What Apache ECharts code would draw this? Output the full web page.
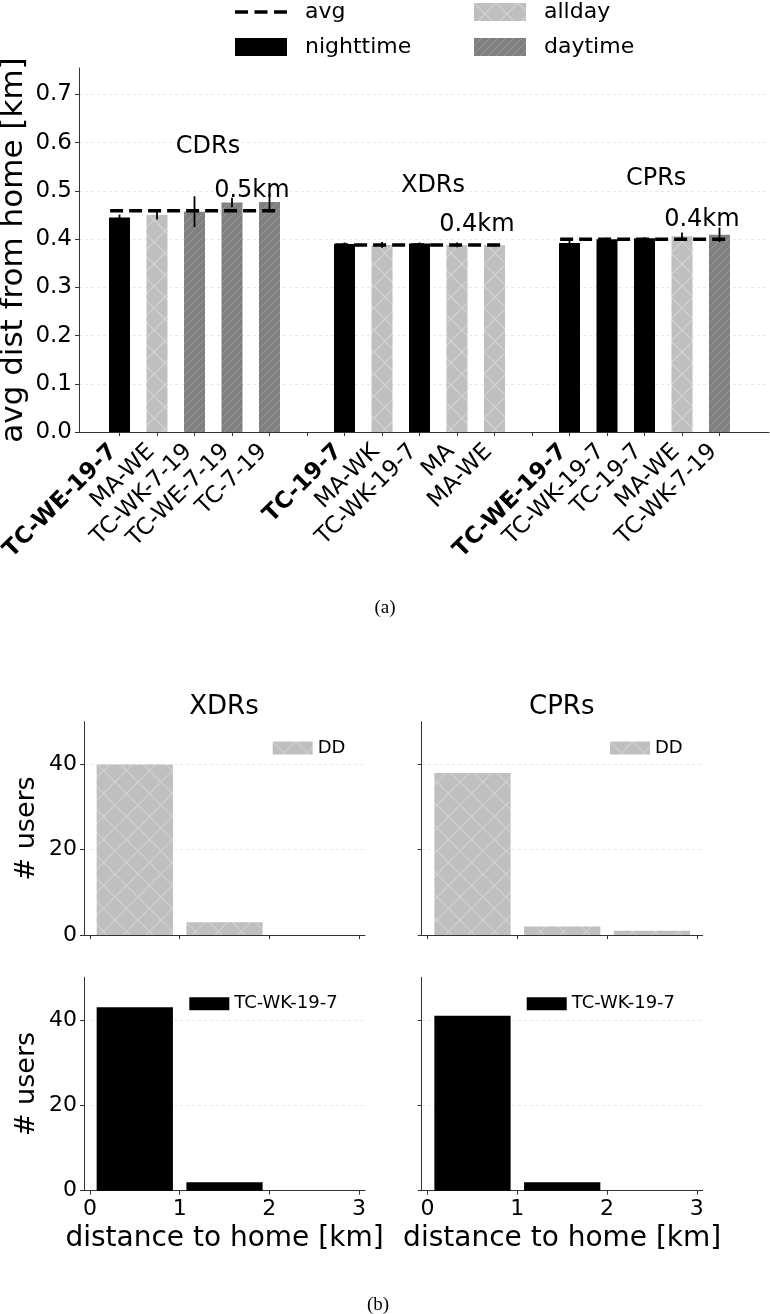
<!DOCTYPE html>
<html>
<head>
<meta charset="utf-8">
<script src="https://cdn.jsdelivr.net/npm/echarts@6/dist/echarts.min.js"></script>
<style>html,body{margin:0;padding:0;background:#fff}#c{width:770px;height:1314px}</style>
</head>
<body>
<div id="c"></div>
<script>
// ---------- data (a) ----------
const slotLabels = ['TC-WE-19-7','MA-WE','TC-WK-7-19','TC-WE-7-19','TC-7-19','',
                    'TC-19-7','MA-WK','TC-WK-19-7','MA','MA-WE','',
                    'TC-WE-19-7','TC-WK-19-7','TC-19-7','MA-WE','TC-WK-7-19'];
const boldSlots = [0, 6, 12];
const barType  = ['nighttime','allday','daytime','daytime','daytime',null,
                  'nighttime','allday','nighttime','allday','allday',null,
                  'nighttime','nighttime','nighttime','allday','daytime'];
const barValue = [0.445,0.450,0.457,0.476,0.477,null,
                  0.390,0.388,0.391,0.388,0.388,null,
                  0.392,0.400,0.402,0.406,0.409];
const barError = [0.006,0.009,0.032,0.010,0.018,null,
                  0.003,0.006,0.002,0.005,0.003,null,
                  0.010,0.003,0.002,0.008,0.015];
const groupNames = ['CDRs','XDRs','CPRs'];
const groupFirst = [0, 6, 12];
const groupLast  = [4, 10, 16];
const groupAvg   = [0.459, 0.388, 0.400];
const avgText    = ['0.5km','0.4km','0.4km'];
const groupNameAt = [[2.36,0.591],[8.36,0.510],[14.31,0.525]];
const avgTextAt   = [[3.53,0.500],[9.53,0.430],[15.53,0.440]];
const yTicksA = [0,0.1,0.2,0.3,0.4,0.5,0.6,0.7];
const barWidthA = 0.56;   // in slot units

// ---------- data (b) ----------
const binCenters = [0.5, 1.5, 2.5];
const xdrsDD = [40, 3, 0];
const cprsDD = [38, 2, 1];
const xdrsTC = [43, 2, 0];
const cprsTC = [41, 2, 0];
const histTicksX = [0, 1, 2, 3];
const histTicksY = [0, 20, 40];
const histRWidth = 0.85;

// ---------- styles ----------
function hatch(bg, fg, size, dirs, lw) {
  const c = document.createElement('canvas'); c.width = size; c.height = size;
  const g = c.getContext('2d');
  g.fillStyle = bg; g.fillRect(0,0,size,size);
  g.strokeStyle = fg; g.lineWidth = lw; g.beginPath();
  dirs.forEach(d => { [-size,0,size].forEach(o => {
    if (d === '/') { g.moveTo(o, size); g.lineTo(o+size, 0); }
    else { g.moveTo(o, 0); g.lineTo(o+size, size); }
  }); });
  g.stroke();
  return {image: c, repeat: 'repeat'};
}
const colNight = '#000000';
const colAll = hatch('#bfbfbf', '#d3d3d3', 22, ['/','\\'], 1.2);
const colDay = hatch('#808080', '#979797', 8, ['/'], 1);
const colDD = hatch('#bfbfbf', '#d1d1d1', 23, ['/','\\'], 1.2);
const typeColor = {nighttime: colNight, allday: colAll, daytime: colDay};
const F = 'DejaVu Sans';
const axisCol = '#333';
const gridLine = {show:true, lineStyle:{color:'#e3e3e3', type:[3,3], width:0.8}};

function rectItem(fill) {
  return function (params, api) {
    const x = api.value(0), y = api.value(1), w = api.value(2);
    const p0 = api.coord([x - w / 2, y]);
    const p1 = api.coord([x + w / 2, 0]);
    return {type: 'rect',
            shape: {x: p0[0], y: p0[1], width: p1[0] - p0[0], height: p1[1] - p0[1]},
            style: {fill: fill}};
  };
}

const slots = slotLabels.map((_, i) => i);
const labelSlots = slots.filter(i => slotLabels[i] !== '');

const series = [];
['nighttime','allday','daytime'].forEach(t => {
  series.push({
    name: t, type: 'custom', xAxisIndex: 0, yAxisIndex: 0, z: 2,
    itemStyle: {color: typeColor[t]},
    encode: {x: 0, y: 1},
    renderItem: rectItem(typeColor[t]),
    data: slots.filter(i => barType[i] === t).map(i => [i, barValue[i], barWidthA])
  });
});
series.push({
  type: 'custom', xAxisIndex: 0, yAxisIndex: 0, z: 5, silent: true,
  encode: {x: 0, y: 1},
  data: slots.filter(i => barValue[i] != null).map(i => [i, barValue[i], barError[i]]),
  renderItem: function (params, api) {
    const x = api.value(0), y = api.value(1), e = api.value(2);
    const p1 = api.coord([x, y - e]), p2 = api.coord([x, y + e]);
    return {type: 'line', shape: {x1: p1[0], y1: p1[1], x2: p2[0], y2: p2[1]},
            style: {stroke: '#000', lineWidth: 1.8}};
  }
});
groupNames.forEach((g, k) => {
  series.push({
    name: 'avg', type: 'line', xAxisIndex: 0, yAxisIndex: 0, z: 4,
    symbol: 'none', silent: true,
    lineStyle: {color: '#000', width: 3.5, type: [13, 6]},
    itemStyle: {color: '#000'},
    data: [[groupFirst[k] - 0.25, groupAvg[k]], [groupLast[k] + 0.3, groupAvg[k]]]
  });
});
const annData = [];
groupNames.forEach((g, k) => {
  annData.push({name: g, value: groupNameAt[k]});
  annData.push({name: avgText[k], value: avgTextAt[k]});
});
series.push({
  type: 'scatter', xAxisIndex: 0, yAxisIndex: 0, z: 6, silent: true,
  symbolSize: 1, itemStyle: {color: 'rgba(0,0,0,0)', opacity: 1},
  label: {show: true, position: 'inside', formatter: '{b}', color: '#000',
          fontFamily: F, fontSize: 24, opacity: 1},
  data: annData
});
const hist = [
  {name: 'DD', data: xdrsDD, color: colDD},
  {name: 'DD', data: cprsDD, color: colDD},
  {name: 'TC-WK-19-7', data: xdrsTC, color: '#000'},
  {name: 'TC-WK-19-7', data: cprsTC, color: '#000'}
];
hist.forEach((h, k) => {
  series.push({
    name: h.name, type: 'custom', xAxisIndex: k + 1, yAxisIndex: k + 1,
    itemStyle: {color: h.color},
    encode: {x: 0, y: 1},
    renderItem: rectItem(h.color),
    data: binCenters.map((c, i) => [c, h.data[i], histRWidth])
  });
});

const histGrid = [[84,721.7],[421.7,721.7],[84,977.3],[421.7,977.3]];
const grids = [{left: 79, top: 68, width: 690, height: 364, outerBoundsMode: 'none', containLabel: false}]
  .concat(histGrid.map(g => ({left: g[0], top: g[1], width: 281, height: 213.4,
                              outerBoundsMode: 'none', containLabel: false})));

const xAxes = [{
  type: 'value', gridIndex: 0, min: -1.08, max: 17.32,
  axisLine: {show: true, onZero: false, lineStyle: {color: axisCol, width: 1}},
  axisTick: {show: true, customValues: slots, length: 4, lineStyle: {color: axisCol}},
  splitLine: {show: false},
  axisLabel: {
    show: true, customValues: labelSlots, rotate: 45, margin: 10,
    padding: [0, 8.5, 0, 0], fontFamily: F, fontSize: 23, color: '#000',
    formatter: v => {
      const i = Math.round(v);
      return boldSlots.indexOf(i) >= 0 ? '{b|' + slotLabels[i] + '}' : slotLabels[i];
    },
    rich: {b: {fontFamily: F, fontSize: 23, fontWeight: 'bold', color: '#000'}}
  }
}];
for (let k = 0; k < 4; k++) {
  const bottom = k >= 2;
  xAxes.push({
    type: 'value', gridIndex: k + 1, min: -0.066, max: 3.066,
    axisLine: {show: true, onZero: false, lineStyle: {color: axisCol, width: 1}},
    axisTick: {show: true, customValues: histTicksX, length: 4, lineStyle: {color: axisCol}},
    splitLine: {show: false},
    axisLabel: {show: bottom, customValues: histTicksX, margin: 8,
                fontFamily: F, fontSize: 22, color: '#000'},
    name: bottom ? 'distance to home [km]' : '',
    nameLocation: 'middle', nameGap: 34,
    nameTextStyle: {fontFamily: F, fontSize: 28, color: '#000'}
  });
}
const yAxes = [{
  type: 'value', gridIndex: 0, min: 0, max: 0.755,
  axisLine: {show: true, onZero: false, lineStyle: {color: axisCol, width: 1}},
  axisTick: {show: true, customValues: yTicksA, length: 4, lineStyle: {color: axisCol}},
  splitLine: gridLine,
  axisLabel: {customValues: yTicksA, formatter: v => v.toFixed(1), margin: 7,
              fontFamily: F, fontSize: 23, color: '#000'},
  name: 'avg dist from home [km]', nameLocation: 'middle', nameGap: 50,
  nameMoveOverlap: false,
  nameTextStyle: {fontFamily: F, fontSize: 31, color: '#000'}
}];
for (let k = 0; k < 4; k++) {
  const left = (k % 2) === 0;
  yAxes.push({
    type: 'value', gridIndex: k + 1, min: 0, max: 50,
    axisLine: {show: true, onZero: false, lineStyle: {color: axisCol, width: 1}},
    axisTick: {show: true, customValues: histTicksY, length: 4, lineStyle: {color: axisCol}},
    splitLine: gridLine,
    axisLabel: {show: left, customValues: histTicksY, margin: 7,
                fontFamily: F, fontSize: 22, color: '#000'},
    name: left ? '# users' : '', nameLocation: 'middle', nameGap: 44,
    nameTextStyle: {fontFamily: F, fontSize: 27, color: '#000'}
  });
}

const dashIcon = 'path://M0,0L0.01,0L0,0.01Z M52,18L51.99,18L52,17.99Z ' +
  'M0,7.25L13,7.25L13,10.75L0,10.75Z M19.5,7.25L32.5,7.25L32.5,10.75L19.5,10.75Z ' +
  'M39,7.25L52,7.25L52,10.75L39,10.75Z';
const topLegendBase = {
  orient: 'vertical', top: 1, padding: 0, itemWidth: 52, itemHeight: 18, itemGap: 13,
  selectedMode: false,
  textStyle: {fontFamily: F, fontSize: 22, lineHeight: 22, color: '#000', padding: [0,0,0,13]}
};
const smallLegendBase = {
  orient: 'vertical', padding: 0, itemWidth: 40, itemHeight: 13, selectedMode: false,
  textStyle: {fontFamily: F, fontSize: 18, lineHeight: 18, color: '#000'}
};
const legends = [
  Object.assign({}, topLegendBase, {left: 235, data: [
    {name: 'avg', icon: dashIcon, itemStyle: {color: '#000', borderWidth: 0}},
    {name: 'nighttime', icon: 'rect'}]}),
  Object.assign({}, topLegendBase, {left: 474, data: [{name: 'allday', icon: 'rect'}, {name: 'daytime', icon: 'rect'}]}),
  Object.assign({}, smallLegendBase, {left: 272.7, top: 739, data: [{name: 'DD', icon: 'rect'}]}),
  Object.assign({}, smallLegendBase, {left: 610, top: 739, data: [{name: 'DD', icon: 'rect'}]}),
  Object.assign({}, smallLegendBase, {left: 189.3, top: 994.7, data: [{name: 'TC-WK-19-7', icon: 'rect'}]}),
  Object.assign({}, smallLegendBase, {left: 526.7, top: 994.7, data: [{name: 'TC-WK-19-7', icon: 'rect'}]})
];

const graphics = [
  {type: 'text', x: 224, y: 707, style: {text: 'XDRs', fontFamily: F, fontSize: 26, fill: '#000', textAlign: 'center', textVerticalAlign: 'middle'}},
  {type: 'text', x: 561.7, y: 707, style: {text: 'CPRs', fontFamily: F, fontSize: 26, fill: '#000', textAlign: 'center', textVerticalAlign: 'middle'}},
  {type: 'text', x: 385, y: 608, style: {text: '(a)', fontFamily: 'Liberation Serif', fontSize: 19, fill: '#000', textAlign: 'center', textVerticalAlign: 'middle'}},
  {type: 'text', x: 378, y: 1305, style: {text: '(b)', fontFamily: 'Liberation Serif', fontSize: 19, fill: '#000', textAlign: 'center', textVerticalAlign: 'middle'}}
];

const chart = echarts.init(document.getElementById('c'), null, {renderer: 'canvas'});
chart.setOption({
  animation: false,
  backgroundColor: '#fff',
  grid: grids, xAxis: xAxes, yAxis: yAxes,
  legend: legends, graphic: graphics, series: series
});
</script>
</body>
</html>
